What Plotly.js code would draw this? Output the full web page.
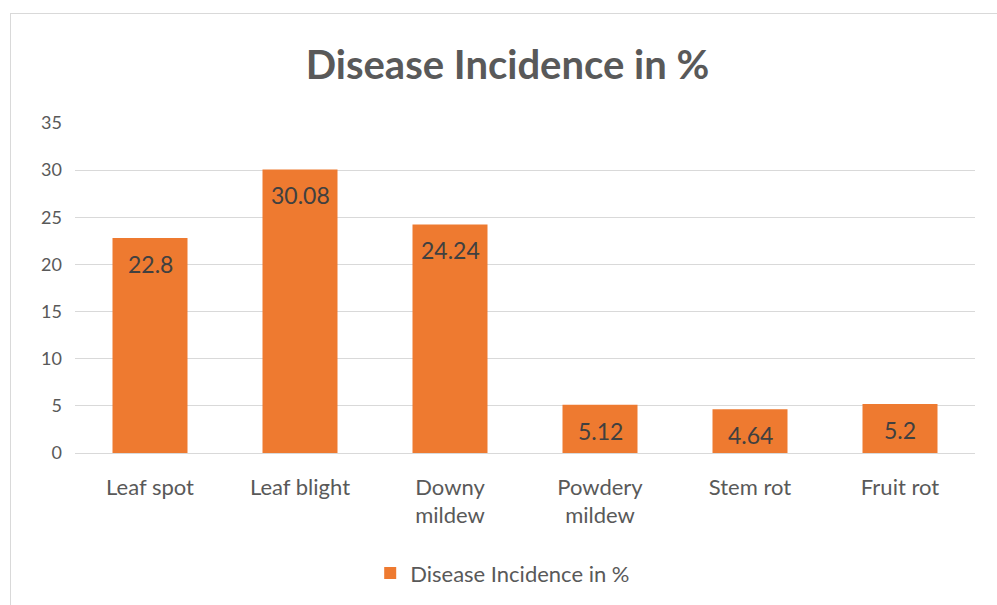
<!DOCTYPE html>
<html>
<head>
<meta charset="utf-8">
<script src="https://cdn.plot.ly/plotly-3.0.1.min.js"></script>
<style>
  html, body { margin: 0; padding: 0; background: #ffffff; }
  #wrap { position: relative; width: 997px; height: 605px; overflow: hidden; }
  #chart { width: 997px; height: 605px; }
  #frame { position: absolute; left: 10px; top: 13px; width: 1000px; height: 600px;
           border: 1.5px solid #d9d9d9; pointer-events: none; box-sizing: border-box; }
</style>
</head>
<body>
<div id="wrap">
  <div id="chart"></div>
  <div id="frame"></div>
</div>
<script>
const categories = ["Leaf spot", "Leaf blight", "Downy<br>mildew", "Powdery<br>mildew", "Stem rot", "Fruit rot"];
const incidence = [22.8, 30.08, 24.24, 5.12, 4.64, 5.2];
const seriesName = "Disease Incidence in %";
const yTicks = [0, 5, 10, 15, 20, 25, 30, 35];

const FONT = "Lato, 'Open Sans', sans-serif";
const GREY = "#595959";

const trace = {
  type: "bar",
  x: categories,
  y: incidence,
  name: seriesName,
  marker: { color: "#EE7A30", line: { width: 0 } },
  hoverinfo: "x+y"
};

const annotations = categories.map((c, i) => ({
  x: c, y: incidence[i], xref: "x", yref: "y",
  text: String(incidence[i]),
  showarrow: false, yanchor: "middle", yshift: -26,
  font: { family: FONT, size: 23, color: "#404040" }
}));

const layout = {
  width: 997, height: 605,
  margin: { l: 75, r: 22, t: 123, b: 151 },
  paper_bgcolor: "#ffffff", plot_bgcolor: "#ffffff",
  title: { text: "<b>Disease Incidence in %</b>", x: 0.509, xanchor: "center", y: 0.893, yanchor: "middle",
           font: { family: FONT, size: 40, color: GREY } },
  bargap: 0.5,
  showlegend: true,
  legend: { orientation: "h", x: 0.328, xanchor: "left", y: -0.36, yanchor: "middle",
            font: { family: FONT, size: 22, color: GREY }, itemwidth: 30 },
  xaxis: {
    type: "category",
    showgrid: false, showline: true, linecolor: "#d9d9d9", linewidth: 1.2,
    ticks: "", tickfont: { family: FONT, size: 22, color: GREY },
    ticklabelstandoff: 14, zeroline: false, fixedrange: true
  },
  yaxis: {
    range: [0, 35], tickvals: yTicks, ticktext: yTicks.map(String),
    showgrid: true, gridcolor: "#d9d9d9", gridwidth: 1.2,
    zeroline: false, showline: false, ticks: "",
    tickfont: { family: FONT, size: 18, color: GREY },
    ticklabelstandoff: 12, fixedrange: true
  },
  annotations: annotations
};

Plotly.newPlot("chart", [trace], layout, { displayModeBar: false, staticPlot: true });
</script>
</body>
</html>
